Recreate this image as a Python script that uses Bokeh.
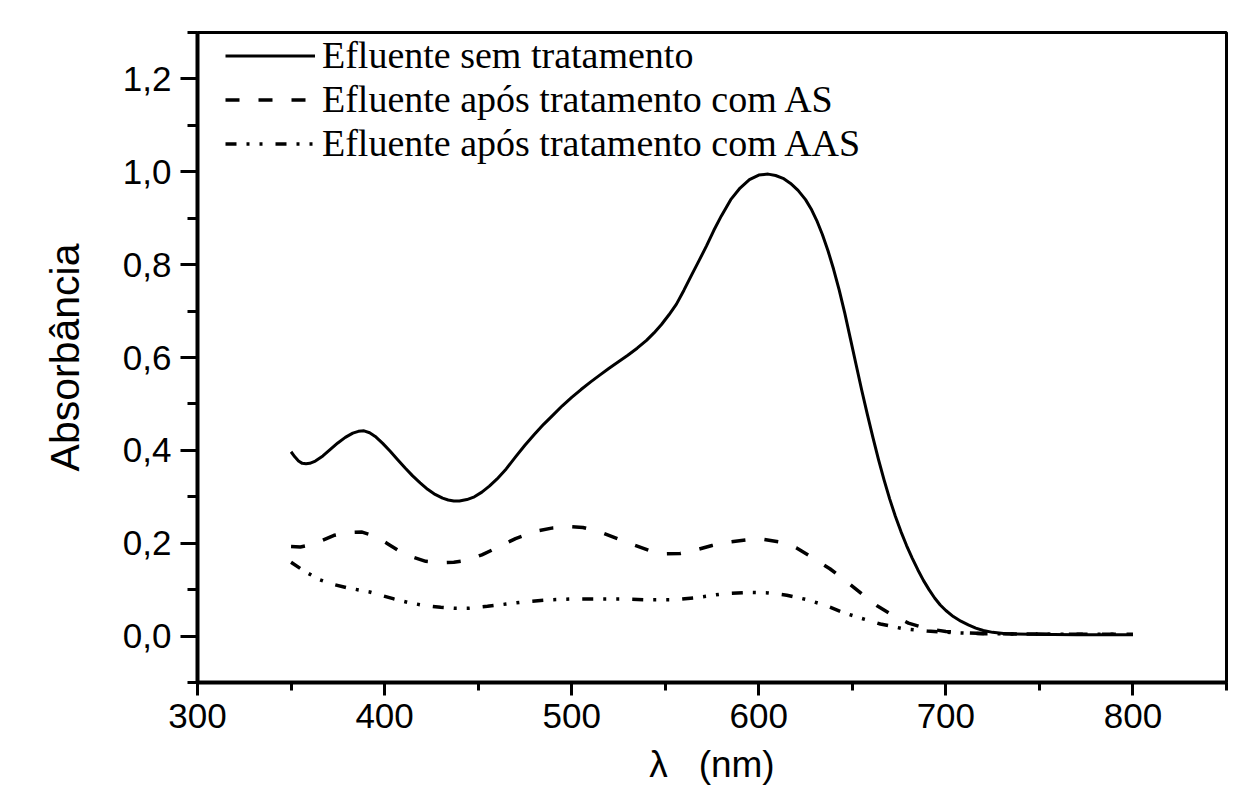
from bokeh.plotting import figure
from bokeh.models import FixedTicker, CustomJSTickFormatter, Legend, LegendItem, Range1d
from bokeh.embed import file_html
from bokeh.resources import INLINE

# Series 1: Efluente sem tratamento
wl_raw = [350, 352, 354, 356, 358, 360, 363, 367, 371, 375, 379, 383, 386, 389, 392,
          395, 399, 403, 407, 411, 415, 419, 423, 427, 431, 434, 437, 440, 444, 448,
          452, 456, 460, 465, 470, 475, 480, 485, 490, 495, 500, 505, 510, 515, 520,
          525, 530, 535, 540, 544, 548, 552, 556, 560, 564, 568, 572, 576, 580, 585,
          590, 595, 600, 605, 609, 613, 617, 621, 625, 628, 631, 634, 637, 640, 643,
          646, 649, 652, 655, 658, 661, 664, 667, 670, 673, 676, 679, 682, 685, 688,
          691, 694, 697, 700, 704, 708, 712, 716, 720, 725, 732, 745, 770, 800]
abs_raw = [0.397, 0.386, 0.377, 0.372, 0.371, 0.372, 0.377, 0.388, 0.402, 0.416, 0.428,
           0.437, 0.441, 0.442, 0.438, 0.430, 0.415, 0.398, 0.380, 0.362, 0.345, 0.330,
           0.316, 0.305, 0.297, 0.293, 0.291, 0.291, 0.294, 0.300, 0.310, 0.323, 0.338,
           0.360, 0.386, 0.411, 0.434, 0.456, 0.476, 0.496, 0.514, 0.531, 0.547, 0.562,
           0.577, 0.591, 0.605, 0.620, 0.637, 0.653, 0.671, 0.692, 0.715, 0.745, 0.777,
           0.808, 0.840, 0.874, 0.905, 0.940, 0.965, 0.983, 0.993, 0.995, 0.992, 0.986,
           0.975, 0.960, 0.940, 0.920, 0.895, 0.865, 0.830, 0.790, 0.745, 0.695, 0.640,
           0.585, 0.530, 0.478, 0.428, 0.380, 0.336, 0.295, 0.258, 0.225, 0.195, 0.168,
           0.143, 0.120, 0.100, 0.082, 0.067, 0.055, 0.042, 0.032, 0.024, 0.017, 0.012,
           0.008, 0.005, 0.004, 0.003, 0.003]

# Series 2: Efluente após tratamento com AS
wl_as = [350, 355, 360, 366, 373, 380, 388, 395, 402, 408, 415, 422, 430, 437, 444,
         452, 461, 470, 480, 490, 498, 506, 514, 523, 532, 541, 550, 558, 566, 575,
         585, 595, 603, 611, 620, 629, 638, 647, 655, 663, 672, 680, 690, 700, 710,
         725, 760, 800]
abs_as = [0.193, 0.192, 0.196, 0.205, 0.217, 0.223, 0.224, 0.215, 0.198, 0.183, 0.170,
          0.161, 0.158, 0.159, 0.163, 0.175, 0.192, 0.210, 0.225, 0.233, 0.236, 0.234,
          0.226, 0.212, 0.198, 0.185, 0.177, 0.178, 0.185, 0.195, 0.203, 0.208, 0.208,
          0.203, 0.190, 0.168, 0.145, 0.117, 0.091, 0.066, 0.044, 0.028, 0.016, 0.010,
          0.007, 0.005, 0.004, 0.004]

# Series 3: Efluente após tratamento com AAS
wl_aas = [350, 357, 365, 372, 380, 392, 405, 413, 421, 430, 437, 445, 455, 465, 475,
          488, 501, 515, 528, 541, 554, 567, 581, 594, 605, 615, 625, 635, 645, 655,
          665, 677, 690, 705, 720, 760, 800]
abs_aas = [0.159, 0.140, 0.122, 0.112, 0.104, 0.095, 0.080, 0.072, 0.066, 0.062, 0.060,
           0.060, 0.064, 0.069, 0.074, 0.078, 0.080, 0.080, 0.080, 0.078, 0.078, 0.083,
           0.091, 0.094, 0.093, 0.088, 0.079, 0.067, 0.051, 0.038, 0.026, 0.016, 0.011,
           0.007, 0.005, 0.004, 0.004]

labels = ["Efluente sem tratamento",
          "Efluente após tratamento com AS",
          "Efluente após tratamento com AAS"]
x_title = "λ\u00a0\u00a0\u00a0(nm)"
y_title = "Absorbância"

x_major = [300, 400, 500, 600, 700, 800]
x_minor = [350, 450, 550, 650, 750, 850]
y_major = [0.0, 0.2, 0.4, 0.6, 0.8, 1.0, 1.2]
y_minor = [-0.1, 0.1, 0.3, 0.5, 0.7, 0.9, 1.1, 1.3]

p = figure(width=1228, height=799,
           x_range=Range1d(300, 850), y_range=Range1d(-0.1, 1.3),
           output_backend="svg", toolbar_location=None,
           min_border_left=197, min_border_right=2,
           min_border_top=32, min_border_bottom=117,
           background_fill_color="white", border_fill_color="white")
p.xgrid.visible = False
p.ygrid.visible = False
p.outline_line_color = "black"
p.outline_line_width = 3
p.outline_line_alpha = 1

r1 = p.line(wl_raw, abs_raw, line_color="black", line_width=3, line_join="round")
r2 = p.line(wl_as, abs_as, line_color="black", line_width=3.5, line_dash="14 19")
r3 = p.line(wl_aas, abs_aas, line_color="black", line_width=3.5,
            line_dash="11 10 3 10 3 13")

fmt = CustomJSTickFormatter(code="return tick.toFixed(1).replace('.', ',');")

xa = p.xaxis[0]
xa.ticker = FixedTicker(ticks=x_major, minor_ticks=x_minor)
ya = p.yaxis[0]
ya.ticker = FixedTicker(ticks=y_major, minor_ticks=y_minor)
ya.formatter = fmt

for ax in (xa, ya):
    ax.axis_line_width = 4
    ax.axis_line_color = "black"
    ax.major_tick_line_width = 3
    ax.minor_tick_line_width = 3
    ax.major_tick_in = 0
    ax.minor_tick_in = 0
    ax.major_label_text_font = "Liberation Sans"
    ax.major_label_text_font_size = "35px"
    ax.major_label_text_color = "black"
    ax.axis_label_text_font = "Liberation Sans"
    ax.axis_label_text_font_style = "normal"
    ax.axis_label_text_color = "black"

ya.major_tick_out = 17
ya.minor_tick_out = 10
ya.major_label_standoff = 9
ya.axis_label = y_title
ya.axis_label_text_font_size = "41px"
ya.axis_label_standoff = 32

xa.major_tick_out = 13
xa.minor_tick_out = 8
xa.major_label_standoff = 8
xa.axis_label = x_title
xa.axis_label_text_font_size = "37px"
xa.axis_label_standoff = 13

legend = Legend(items=[LegendItem(label=labels[0], renderers=[r1]),
                       LegendItem(label=labels[1], renderers=[r2]),
                       LegendItem(label=labels[2], renderers=[r3])],
                location=(28, 517), padding=0, margin=0, spacing=0,
                glyph_width=90, glyph_height=43, label_height=43,
                label_standoff=7,
                label_text_font="Liberation Serif", label_text_font_size="38px",
                label_text_color="black",
                border_line_alpha=0, background_fill_alpha=0)
p.add_layout(legend)

open("out.html", "w").write(file_html(p, INLINE))
